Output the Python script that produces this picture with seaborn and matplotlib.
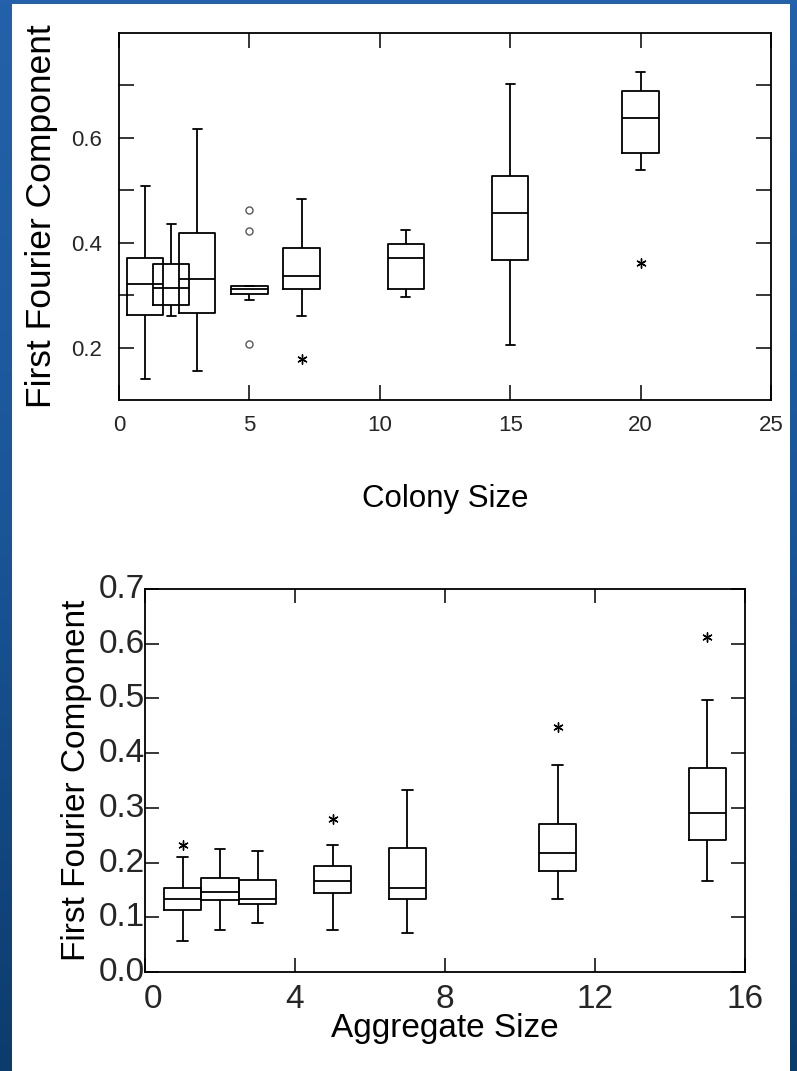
import numpy as np
import pandas as pd
import seaborn as sns
import matplotlib.pyplot as plt
from matplotlib.patches import Rectangle
from matplotlib.colors import LinearSegmentedColormap
from matplotlib.transforms import ScaledTranslation

# --- Colony size panel (top): five-number summaries ---
colony_size = [1, 2, 3, 5, 7, 11, 15, 20]
colony_lo = [0.141, 0.260, 0.156, 0.291, 0.260, 0.296, 0.205, 0.538]
colony_q1 = [0.263, 0.281, 0.265, 0.303, 0.311, 0.312, 0.367, 0.572]
colony_med = [0.321, 0.314, 0.330, 0.311, 0.337, 0.370, 0.456, 0.637]
colony_q3 = [0.371, 0.359, 0.419, 0.317, 0.389, 0.398, 0.528, 0.690]
colony_hi = [0.509, 0.435, 0.617, 0.317, 0.483, 0.424, 0.703, 0.726]
colony_out_circle_x = [5, 5, 5]
colony_out_circle_y = [0.463, 0.423, 0.206]
colony_out_star_x = [7, 20]
colony_out_star_y = [0.178, 0.362]

# --- Aggregate size panel (bottom) ---
agg_size = [1, 2, 3, 5, 7, 11, 15]
agg_lo = [0.056, 0.077, 0.090, 0.077, 0.071, 0.133, 0.167]
agg_q1 = [0.114, 0.131, 0.124, 0.145, 0.134, 0.184, 0.242]
agg_med = [0.133, 0.147, 0.134, 0.167, 0.154, 0.217, 0.290]
agg_q3 = [0.153, 0.171, 0.168, 0.193, 0.227, 0.270, 0.373]
agg_hi = [0.210, 0.224, 0.221, 0.233, 0.333, 0.378, 0.497]
agg_out_x = [1, 5, 11, 15]
agg_out_y = [0.232, 0.280, 0.448, 0.612]


def summary_frame(sizes, *cols):
    # five values per box -> quartiles/whiskers come out exactly with whis=(0, 100)
    rows = []
    for i, s in enumerate(sizes):
        for col in cols:
            rows.append({"size": s, "value": col[i]})
    return pd.DataFrame(rows)


sns.set_theme(style="ticks")
plt.rcParams['font.family'] = ['Liberation Sans', 'DejaVu Sans']
plt.rcParams['axes.linewidth'] = 1.3

W, H = 797, 1071
fig = plt.figure(figsize=(W / 100, H / 100), dpi=100)

# blue slide background + white panel
bg = fig.add_axes([0, 0, 1, 1], zorder=-10)
blue = LinearSegmentedColormap.from_list("slide", ["#2362aa", "#1a5598", "#0b3c6c"])
bg.imshow(np.linspace(0, 1, 256).reshape(-1, 1), aspect='auto', cmap=blue, extent=[0, 1, 0, 1])
bg.axis('off')
fig.add_artist(Rectangle((12 / W, 0), (790 - 12) / W, (H - 4) / H, transform=fig.transFigure,
                         facecolor='white', edgecolor='none', zorder=-5))

box_kws = dict(x="size", y="value", native_scale=True, whis=(0, 100), fill=False,
               color="black", linewidth=1.3, showfliers=False)

# ---------------- top panel ----------------
ax1 = fig.add_axes([119 / W, 1 - 400 / H, 652 / W, 367 / H])
df1 = summary_frame(colony_size, colony_lo, colony_q1, colony_med, colony_q3, colony_hi)
sns.boxplot(data=df1, width=1.4, capwidths=0.35, ax=ax1, **box_kws)
sns.scatterplot(x=colony_out_circle_x, y=colony_out_circle_y, marker='o', s=26,
                color='white', edgecolor='0.35', linewidth=1.0, ax=ax1, zorder=3)
sns.scatterplot(x=colony_out_star_x, y=colony_out_star_y, marker=(6, 2, 0), s=45,
                color='black', edgecolor='black', linewidth=1.0, ax=ax1, zorder=3)
ax1.set_xlim(0, 25)
ax1.set_ylim(0.1, 0.8)
ax1.set_xticks([0, 5, 10, 15, 20, 25])
ax1.set_yticks([0.2, 0.4, 0.6])
ax1.set_yticklabels(['0.2', '0.4', '0.6'])
ax1.set_yticks([0.3, 0.5, 0.7], minor=True)
ax1.tick_params(axis='both', which='both', direction='in', top=True, right=True,
                length=11, width=1.1, color='black')
ax1.tick_params(axis='y', which='both', pad=12, labelsize=16)
ax1.tick_params(axis='x', pad=11, labelsize=16)
ax1.set_xlabel("Colony Size", fontsize=22.5, labelpad=34, color='black')
ax1.set_ylabel("First Fourier Component", fontsize=25.5, labelpad=10, color='black')
for sp in ax1.spines.values():
    sp.set_color('black')

# ---------------- bottom panel ----------------
ax2 = fig.add_axes([145 / W, 1 - 972 / H, 600 / W, 383 / H])
df2 = summary_frame(agg_size, agg_lo, agg_q1, agg_med, agg_q3, agg_hi)
sns.boxplot(data=df2, width=1.0, capwidths=0.28, ax=ax2, **box_kws)
sns.scatterplot(x=agg_out_x, y=agg_out_y, marker=(6, 2, 0), s=45,
                color='black', edgecolor='black', linewidth=1.0, ax=ax2, zorder=3)
ax2.set_xlim(0, 16)
ax2.set_ylim(0, 0.7)
ax2.set_xticks([0, 4, 8, 12, 16])
ax2.set_yticks(np.arange(0, 0.71, 0.1))
ax2.set_yticklabels(['0.0', '0.1', '0.2', '0.3', '0.4', '0.5', '0.6', '0.7'])
ax2.tick_params(axis='both', which='both', direction='in', top=True, right=True,
                length=10, width=1.1, color='black')
ax2.tick_params(axis='y', pad=0, labelsize=24)
ax2.tick_params(axis='x', pad=9, labelsize=24)
ax2.set_xlabel("Aggregate Size", fontsize=24, labelpad=-2, color='black')
ax2.set_ylabel("First Fourier Component", fontsize=24, labelpad=5, color='black')
for sp in ax2.spines.values():
    sp.set_color('black')

# y labels sit a little above their ticks; nudge the x "0" clear of "0.0"
for lab in ax2.get_yticklabels():
    lab.set_transform(lab.get_transform() + ScaledTranslation(0, 3 / 100, fig.dpi_scale_trans))
zero_lab = ax2.get_xticklabels()[0]
zero_lab.set_transform(zero_lab.get_transform() + ScaledTranslation(8 / 100, 0, fig.dpi_scale_trans))

fig.savefig("out.png", dpi=100)
